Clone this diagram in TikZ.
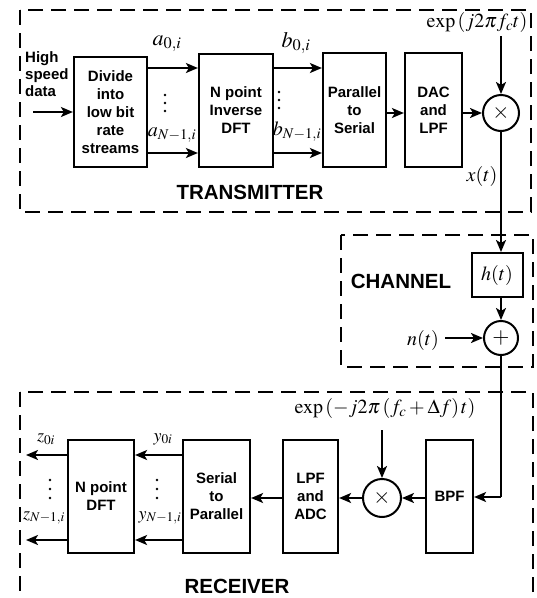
\documentclass[tikz,border=0pt]{standalone}
\usepackage{mathptmx}
\usepackage[no-math]{fontspec}
\setmainfont{Liberation Serif}
\newfontfamily\lsans{Liberation Sans}
\usetikzlibrary{arrows.meta}
\begin{document}
\begin{tikzpicture}[x=1pt,y=-1pt,
  blk/.style={draw,line width=2.2pt,align=center,inner sep=0pt,
    font=\lsans\bfseries\fontsize{15}{18}\selectfont},
  lbl/.style={inner sep=0pt,font=\fontsize{20}{24}\selectfont},
  albl/.style={inner sep=0pt,font=\fontsize{22}{24}\selectfont},
  slbl/.style={inner sep=0pt,font=\fontsize{18}{20}\selectfont},
  big/.style={inner sep=0pt,font=\lsans\bfseries\fontsize{20.5}{24}\selectfont},
  opc/.style={draw,circle,line width=2pt,inner sep=0pt,font=\fontsize{22}{24}\selectfont},
  dbox/.style={line width=2.7pt,dash pattern=on 15pt off 8pt},
  arr/.style={line width=2pt,-{Stealth[length=12pt,width=10pt,inset=3pt]}},
  ln/.style={line width=2pt},
  dot/.style={fill,circle,inner sep=0pt,minimum size=2.6pt}]
\useasboundingbox (0,0) rectangle (537,598);
% dashed boxes
\draw[dbox] (20,10) rectangle (531,212);
\draw[dbox] (341,235) rectangle (533,367);
\draw[dbox] (20,392) rectangle (533,615);
% ---------- transmitter
\node[anchor=west,align=left,inner sep=0pt,font=\lsans\bfseries\fontsize{15}{17}\selectfont] (hsd) at (25,74) {High\\speed\\data};
\coordinate (in) at (33,112);
\node[blk,minimum width=73pt,minimum height=110pt] (div) at (110.5,112) {Divide\\into\\low bit\\rate\\streams};
\node[blk,minimum width=74pt,minimum height=113pt] (idft) at (236,110.5) {N point\\Inverse\\DFT};
\node[blk,minimum width=63pt,minimum height=114pt] (p2s) at (354.5,110) {Parallel\\to\\Serial};
\node[blk,minimum width=57pt,minimum height=114pt] (dac) at (433.5,110) {DAC\\and\\LPF};
\node[opc,minimum size=36pt] (mul) at (501,113) {$\times$};
\node[lbl] (exptx) at (477,22) {$\exp\left(j2\pi f_c t\right)$};
\node[lbl] (xt) at (482,176) {$x(t)$};
\node[big] (txl) at (250,192) {TRANSMITTER};
\draw[arr] (in) -- (div.west |- in);
\draw[arr] (div.east |- 0,68) -- (idft.west |- 0,68);
\draw[arr] (div.east |- 0,153) -- (idft.west |- 0,153);
\node[albl] (a0) at (167,44) {$a_{0,i}$};
\node[lbl] (aN) at (172,135) {$a_{N-1,i}$};
\foreach \yy in {95,103,111} \node[dot] at (165,\yy) {};
\draw[arr] (idft.east |- 0,68) -- (p2s.west |- 0,68);
\draw[arr] (idft.east |- 0,153) -- (p2s.west |- 0,153);
\node[albl] (b0) at (296,43) {$b_{0,i}$};
\node[lbl] (bN) at (297,132) {$b_{N-1,i}$};
\foreach \yy in {92,100,108} \node[dot] at (279,\yy) {};
\draw[arr] (p2s.east |- mul) -- (dac.west |- mul);
\draw[arr] (dac.east |- mul) -- (mul.west);
\draw[arr] (mul |- 0,36) -- (mul.north);
% ---------- channel
\node[draw,line width=2pt,minimum width=51pt,minimum height=44pt,inner sep=0pt,font=\fontsize{20}{24}\selectfont] (h) at (497,275) {$h(t)$};
\node[opc,minimum size=34pt] (plus) at (501,338) {$+$};
\node[big] (chl) at (401,281) {CHANNEL};
\node[lbl] (nt) at (423,340) {$n(t)$};
\draw[arr] (mul.south) -- (mul.south |- h.north);
\draw[arr] (plus |- h.south) -- (plus.north);
\draw[arr] (445,338) -- (plus.west);
% ---------- receiver
\node[blk,minimum width=47pt,minimum height=113pt] (bpf) at (449.5,496.5) {BPF};
\node[opc,minimum size=38pt] (rmul) at (382,498) {$\times$};
\node[lbl] (exprx) at (385,408) {$\exp\left(-j2\pi\left(f_c+\Delta f\right)t\right)$};
\node[blk,minimum width=55pt,minimum height=113pt] (lpf) at (310.5,496.5) {LPF\\and\\ADC};
\node[blk,minimum width=67pt,minimum height=113pt] (s2p) at (216.5,496.5) {Serial\\to\\Parallel};
\node[blk,minimum width=66pt,minimum height=113pt] (dft) at (101,496.5) {N point\\DFT};
\node[big] (rxl) at (237,586) {RECEIVER};
\coordinate (bend) at (501,497);
\draw[ln] (plus.south) -- (bend);
\draw[arr] (bend) -- (bpf.east |- bend);
\draw[arr] (bpf.west |- rmul) -- (rmul.east);
\draw[arr] (rmul.west) -- (lpf.east |- rmul);
\draw[arr] (lpf.west |- rmul) -- (s2p.east |- rmul);
\draw[arr] (rmul |- 0,430) -- (rmul.north);
\draw[arr] (s2p.west |- 0,455) -- (dft.east |- 0,455);
\draw[arr] (s2p.west |- 0,540) -- (dft.east |- 0,540);
\node[slbl] (y0) at (163,439) {$y_{0i}$};
\node[slbl] (yN) at (160,518) {$y_{N-1,i}$};
\foreach \yy in {480,489,498} \node[dot] at (157,\yy) {};
\coordinate (z0e) at (26,455);
\coordinate (zNe) at (26,540);
\draw[arr] (dft.west |- z0e) -- (z0e);
\draw[arr] (dft.west |- zNe) -- (zNe);
\node[slbl] (z0) at (46,439) {$z_{0i}$};
\node[slbl] (zN) at (44,518) {$z_{N-1,i}$};
\foreach \yy in {480,489,498} \node[dot] at (50,\yy) {};
\end{tikzpicture}
\end{document}
